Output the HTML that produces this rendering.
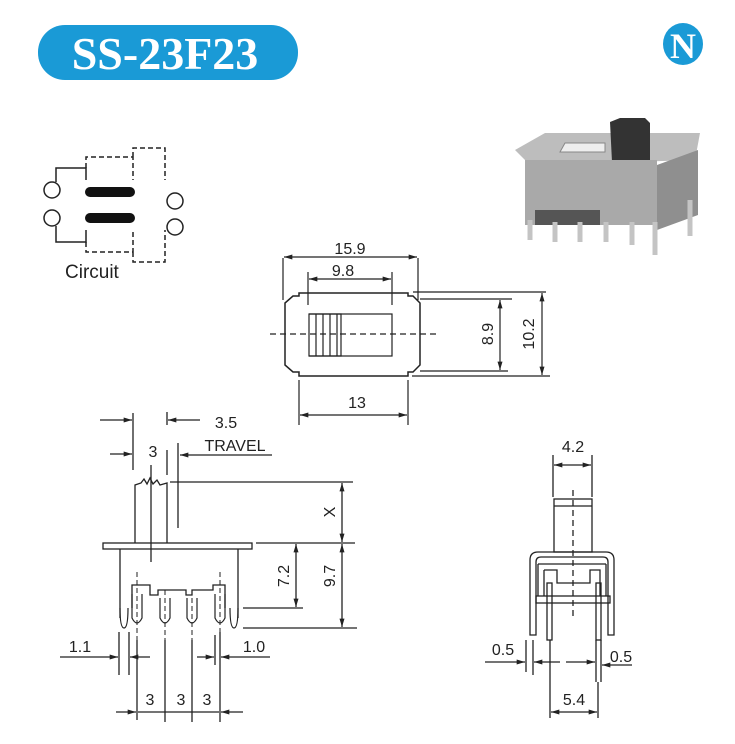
<!DOCTYPE html>
<html><head><style>
body{margin:0;background:#fff;}
svg{display:block;font-family:"Liberation Sans",sans-serif;}
</style></head><body>
<svg width="735" height="744" viewBox="0 0 735 744" xmlns="http://www.w3.org/2000/svg">
<defs>
<marker id="a" viewBox="0 0 10 6" refX="10" refY="3" markerWidth="9" markerHeight="5" orient="auto-start-reverse" markerUnits="userSpaceOnUse"><path d="M0,0L10,3L0,6z" fill="#222"/></marker>
</defs>
<!-- title -->
<rect x="38" y="25" width="260" height="55" rx="27" fill="#1a9ad6"/>
<text x="165" y="69" text-anchor="middle" fill="#fff" font-family="Liberation Serif,serif" font-weight="bold" font-size="46">SS-23F23</text>
<ellipse cx="683" cy="44" rx="20" ry="21" fill="#1a9ad6"/>
<text x="683" y="58" text-anchor="middle" fill="#fff" font-family="Liberation Serif,serif" font-weight="bold" font-size="36">N</text>

<g stroke="#222" fill="none" stroke-width="1.5">
<!-- circuit -->
<circle cx="52" cy="190" r="8"/><circle cx="52" cy="218" r="8"/>
<circle cx="175" cy="201" r="8"/><circle cx="175" cy="227" r="8"/>
<path d="M56,182V168H86V180M56,226V242H86V230"/>
<path d="M86,168V157H133V180M86,242V252H133V230M133,157V148H165V180M133,252V262H165V230" stroke-dasharray="5,3"/>
<line x1="90" y1="192" x2="130" y2="192" stroke="#111" stroke-width="10" stroke-linecap="round"/>
<line x1="90" y1="218" x2="130" y2="218" stroke="#111" stroke-width="10" stroke-linecap="round"/>
</g>
<text x="65" y="278" font-size="19" fill="#222">Circuit</text>

<!-- photo -->
<g>
<path d="M515,150L545,133H700L695,160L530,165Z" fill="#bdbdbd"/>
<path d="M565,143H605V152H560Z" fill="#eee" stroke="#888"/>
<path d="M610,122L620,118H645L650,123V162H612Z" fill="#333"/>
<path d="M525,160H657V225H525Z" fill="#a9a9a9"/>
<path d="M657,165L698,150V215L657,230Z" fill="#8f8f8f"/>
<path d="M535,210H600V225H535Z" fill="#555"/>
<g stroke="#c4c4c4" stroke-width="5">
<line x1="530" y1="220" x2="530" y2="240"/><line x1="555" y1="222" x2="555" y2="242"/><line x1="580" y1="222" x2="580" y2="242"/><line x1="606" y1="222" x2="606" y2="242"/><line x1="632" y1="222" x2="632" y2="245"/><line x1="655" y1="222" x2="655" y2="255"/><line x1="690" y1="200" x2="690" y2="236"/>
</g>
</g>

<g stroke="#222" fill="none" stroke-width="1.2">
<!-- top view -->
<path d="M299,293H408V296H413L420,303V365L413,372H408V376H299V372H293L285,365V303L293,296H299Z" stroke-width="1.5"/>
<rect x="309" y="314" width="83" height="42"/>
<path d="M309,314H341V356H309M316,314V356M323,314V356M330,314V356M337,314V356"/>
<line x1="270" y1="334" x2="436" y2="334" stroke-dasharray="6,4"/>
<path d="M283,258V300M418,258V300M308,272V305M392,272V305"/>
<line x1="284" y1="257" x2="417" y2="257" marker-start="url(#a)" marker-end="url(#a)"/>
<line x1="309" y1="279" x2="391" y2="279" marker-start="url(#a)" marker-end="url(#a)"/>
<path d="M413,292H546M420,299H512M420,371H508M412,376H550"/>
<line x1="500" y1="300" x2="500" y2="370" marker-start="url(#a)" marker-end="url(#a)"/>
<line x1="542" y1="293" x2="542" y2="375" marker-start="url(#a)" marker-end="url(#a)"/>
<path d="M299,380V425M408,380V425"/>
<line x1="300" y1="415" x2="407" y2="415" marker-start="url(#a)" marker-end="url(#a)"/>
</g>
<g font-size="16" fill="#222" text-anchor="middle">
<text x="350" y="254">15.9</text>
<text x="343" y="276">9.8</text>
<text x="357" y="408">13</text>
<text transform="translate(493,334) rotate(-90)">8.9</text>
<text transform="translate(534,334) rotate(-90)">10.2</text>
</g>

<!-- side view -->
<g stroke="#222" fill="none" stroke-width="1.3">
<path d="M135,543V485L141,483L144,479L147,484L150,478L153,484L157,480L160,485L167,483V543"/>
<rect x="103" y="543" width="149" height="6"/>
<path d="M120,549V618M238,549V618"/>
<line x1="151" y1="465" x2="151" y2="562"/>
<path d="M132,608V585H150V595H158V590H186V595H192V590H213V585H225V608"/>
<g stroke-width="1.2">
<path d="M132,594V618Q137,628 142,618V594M160,598V618Q165,628 170,618V598M187,598V618Q192,628 197,618V598M215,594V618Q220,628 225,618V594"/>
<path d="M120,608Q120,628 124,628Q128,628 128,608M230,608Q230,628 234,628Q238,628 238,608"/>
</g>
<g stroke-dasharray="5,3" stroke-width="1">
<path d="M137,572V640M165,590V640M192,590V640M220,572V640"/>
</g>
<path d="M133,413V470M167,412V425M167,450V475M178,443V528"/>
<line x1="100" y1="420" x2="132" y2="420" marker-end="url(#a)"/>
<line x1="200" y1="420" x2="168" y2="420" marker-end="url(#a)"/>
<line x1="110" y1="454" x2="132" y2="454" marker-end="url(#a)"/>
<line x1="272" y1="455" x2="180" y2="455" marker-end="url(#a)"/>
<path d="M170,482H353M256,543H355M243,608H303M243,628H357"/>
<line x1="342" y1="483" x2="342" y2="542" marker-start="url(#a)" marker-end="url(#a)"/>
<line x1="342" y1="544" x2="342" y2="627" marker-start="url(#a)" marker-end="url(#a)"/>
<line x1="296" y1="544" x2="296" y2="607" marker-start="url(#a)" marker-end="url(#a)"/>
<path d="M119,632V675M129,632V675M215,635V665M220,632V675M137,640V720M165,640V722M192,640V722M220,675V722"/>
<line x1="60" y1="657" x2="118" y2="657" marker-end="url(#a)"/>
<line x1="150" y1="657" x2="130" y2="657" marker-end="url(#a)"/>
<line x1="197" y1="657" x2="214" y2="657" marker-end="url(#a)"/>
<line x1="270" y1="657" x2="221" y2="657" marker-end="url(#a)"/>
<line x1="116" y1="712" x2="136" y2="712" marker-end="url(#a)"/>
<line x1="138" y1="712" x2="219" y2="712"/>
<line x1="243" y1="712" x2="221" y2="712" marker-end="url(#a)"/>
</g>
<g font-size="16" fill="#222" text-anchor="middle">
<text x="226" y="428">3.5</text>
<text x="153" y="457">3</text>
<text x="235" y="451">TRAVEL</text>
<text transform="translate(335,512) rotate(-90)">X</text>
<text transform="translate(289,576) rotate(-90)">7.2</text>
<text transform="translate(335,576) rotate(-90)">9.7</text>
<text x="80" y="652">1.1</text>
<text x="254" y="652">1.0</text>
<text x="150" y="705">3</text>
<text x="181" y="705">3</text>
<text x="207" y="705">3</text>
</g>

<!-- front view -->
<g stroke="#222" fill="none" stroke-width="1.3">
<path d="M553,455V497M592,455V497"/>
<line x1="554" y1="465" x2="591" y2="465" marker-start="url(#a)" marker-end="url(#a)"/>
<rect x="554" y="499" width="38" height="53"/>
<line x1="554" y1="506" x2="592" y2="506"/>
<line x1="573" y1="490" x2="573" y2="620" stroke-dasharray="6,4"/>
<path d="M530,635V560Q530,552 538,552H606Q614,552 614,560V635H608V562Q608,557 603,557H541Q536,557 536,562V635Z"/>
<path d="M538,564H606M538,564V596M606,564V596M544,570H557V583H590V570H600V596M544,570V596"/>
<rect x="536" y="596" width="74" height="7"/>
<rect x="547" y="583" width="5" height="57"/>
<rect x="596" y="583" width="5" height="57"/>
<path d="M526,640V672M533,640V675M596,640V682M601,640V682M550,640V718M598,682V718"/>
<line x1="485" y1="662" x2="525" y2="662" marker-end="url(#a)"/>
<line x1="560" y1="662" x2="534" y2="662" marker-end="url(#a)"/>
<line x1="566" y1="662" x2="595" y2="662" marker-end="url(#a)"/>
<line x1="632" y1="665" x2="602" y2="665" marker-end="url(#a)"/>
<line x1="551" y1="712" x2="597" y2="712" marker-start="url(#a)" marker-end="url(#a)"/>
</g>
<g font-size="16" fill="#222" text-anchor="middle">
<text x="573" y="452">4.2</text>
<text x="503" y="655">0.5</text>
<text x="621" y="662">0.5</text>
<text x="574" y="705">5.4</text>
</g>
</svg>
</body></html>
